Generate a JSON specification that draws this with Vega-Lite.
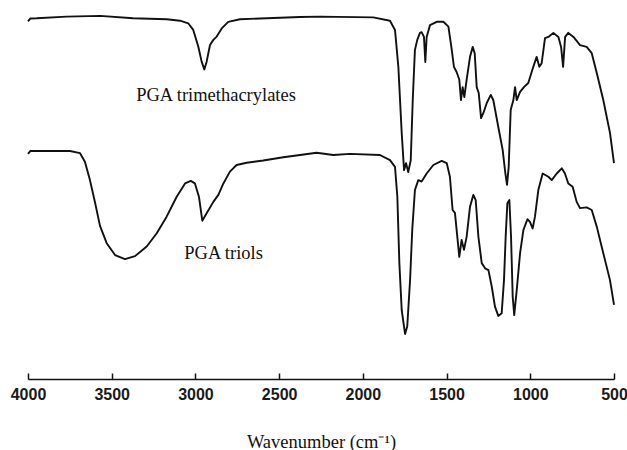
{
  "$schema": "https://vega.github.io/schema/vega-lite/v6.json",
  "width": 586,
  "height": 369,
  "autosize": {"type": "none"},
  "padding": {"left": 28, "top": 10, "right": 13, "bottom": 71},
  "background": "white",
  "config": {"view": {"stroke": null}},
  "datasets": {
    "spectra": [
      {"sample": "trimethacrylates", "wavenumber": 4000, "transmittance": 96.9},
      {"sample": "trimethacrylates", "wavenumber": 3985, "transmittance": 97.7},
      {"sample": "trimethacrylates", "wavenumber": 3948, "transmittance": 97.75},
      {"sample": "trimethacrylates", "wavenumber": 3769, "transmittance": 98.2},
      {"sample": "trimethacrylates", "wavenumber": 3570, "transmittance": 98.4},
      {"sample": "trimethacrylates", "wavenumber": 3372, "transmittance": 97.75},
      {"sample": "trimethacrylates", "wavenumber": 3172, "transmittance": 97.5},
      {"sample": "trimethacrylates", "wavenumber": 3092, "transmittance": 97.1},
      {"sample": "trimethacrylates", "wavenumber": 3043, "transmittance": 96.4},
      {"sample": "trimethacrylates", "wavenumber": 3013, "transmittance": 94.6},
      {"sample": "trimethacrylates", "wavenumber": 2983, "transmittance": 90.1},
      {"sample": "trimethacrylates", "wavenumber": 2963, "transmittance": 86.0},
      {"sample": "trimethacrylates", "wavenumber": 2947, "transmittance": 83.9},
      {"sample": "trimethacrylates", "wavenumber": 2933, "transmittance": 86.0},
      {"sample": "trimethacrylates", "wavenumber": 2913, "transmittance": 90.5},
      {"sample": "trimethacrylates", "wavenumber": 2893, "transmittance": 91.9},
      {"sample": "trimethacrylates", "wavenumber": 2873, "transmittance": 92.8},
      {"sample": "trimethacrylates", "wavenumber": 2843, "transmittance": 95.0},
      {"sample": "trimethacrylates", "wavenumber": 2804, "transmittance": 96.8},
      {"sample": "trimethacrylates", "wavenumber": 2734, "transmittance": 97.5},
      {"sample": "trimethacrylates", "wavenumber": 2574, "transmittance": 97.75},
      {"sample": "trimethacrylates", "wavenumber": 2375, "transmittance": 98.1},
      {"sample": "trimethacrylates", "wavenumber": 2256, "transmittance": 98.2},
      {"sample": "trimethacrylates", "wavenumber": 1938, "transmittance": 98.0},
      {"sample": "trimethacrylates", "wavenumber": 1838, "transmittance": 97.1},
      {"sample": "trimethacrylates", "wavenumber": 1808, "transmittance": 94.6},
      {"sample": "trimethacrylates", "wavenumber": 1788, "transmittance": 84.6},
      {"sample": "trimethacrylates", "wavenumber": 1768, "transmittance": 66.7},
      {"sample": "trimethacrylates", "wavenumber": 1754, "transmittance": 56.6},
      {"sample": "trimethacrylates", "wavenumber": 1742, "transmittance": 58.5},
      {"sample": "trimethacrylates", "wavenumber": 1729, "transmittance": 56.1},
      {"sample": "trimethacrylates", "wavenumber": 1714, "transmittance": 59.3},
      {"sample": "trimethacrylates", "wavenumber": 1702, "transmittance": 75.6},
      {"sample": "trimethacrylates", "wavenumber": 1689, "transmittance": 89.2},
      {"sample": "trimethacrylates", "wavenumber": 1675, "transmittance": 91.9},
      {"sample": "trimethacrylates", "wavenumber": 1659, "transmittance": 93.8},
      {"sample": "trimethacrylates", "wavenumber": 1649, "transmittance": 94.0},
      {"sample": "trimethacrylates", "wavenumber": 1635, "transmittance": 92.7},
      {"sample": "trimethacrylates", "wavenumber": 1627, "transmittance": 85.9},
      {"sample": "trimethacrylates", "wavenumber": 1619, "transmittance": 92.7},
      {"sample": "trimethacrylates", "wavenumber": 1599, "transmittance": 95.9},
      {"sample": "trimethacrylates", "wavenumber": 1559, "transmittance": 96.8},
      {"sample": "trimethacrylates", "wavenumber": 1519, "transmittance": 96.8},
      {"sample": "trimethacrylates", "wavenumber": 1489, "transmittance": 95.5},
      {"sample": "trimethacrylates", "wavenumber": 1469, "transmittance": 89.2},
      {"sample": "trimethacrylates", "wavenumber": 1456, "transmittance": 84.6},
      {"sample": "trimethacrylates", "wavenumber": 1440, "transmittance": 83.2},
      {"sample": "trimethacrylates", "wavenumber": 1424, "transmittance": 81.1},
      {"sample": "trimethacrylates", "wavenumber": 1414, "transmittance": 75.6},
      {"sample": "trimethacrylates", "wavenumber": 1404, "transmittance": 79.1},
      {"sample": "trimethacrylates", "wavenumber": 1394, "transmittance": 76.4},
      {"sample": "trimethacrylates", "wavenumber": 1380, "transmittance": 81.1},
      {"sample": "trimethacrylates", "wavenumber": 1360, "transmittance": 87.3},
      {"sample": "trimethacrylates", "wavenumber": 1344, "transmittance": 90.0},
      {"sample": "trimethacrylates", "wavenumber": 1332, "transmittance": 88.3},
      {"sample": "trimethacrylates", "wavenumber": 1320, "transmittance": 79.1},
      {"sample": "trimethacrylates", "wavenumber": 1308, "transmittance": 77.5},
      {"sample": "trimethacrylates", "wavenumber": 1294, "transmittance": 70.7},
      {"sample": "trimethacrylates", "wavenumber": 1280, "transmittance": 72.1},
      {"sample": "trimethacrylates", "wavenumber": 1260, "transmittance": 74.8},
      {"sample": "trimethacrylates", "wavenumber": 1236, "transmittance": 77.0},
      {"sample": "trimethacrylates", "wavenumber": 1221, "transmittance": 75.6},
      {"sample": "trimethacrylates", "wavenumber": 1191, "transmittance": 68.3},
      {"sample": "trimethacrylates", "wavenumber": 1165, "transmittance": 62.1},
      {"sample": "trimethacrylates", "wavenumber": 1149, "transmittance": 55.8},
      {"sample": "trimethacrylates", "wavenumber": 1139, "transmittance": 52.6},
      {"sample": "trimethacrylates", "wavenumber": 1129, "transmittance": 57.5},
      {"sample": "trimethacrylates", "wavenumber": 1117, "transmittance": 72.9},
      {"sample": "trimethacrylates", "wavenumber": 1101, "transmittance": 75.6},
      {"sample": "trimethacrylates", "wavenumber": 1091, "transmittance": 79.1},
      {"sample": "trimethacrylates", "wavenumber": 1081, "transmittance": 75.6},
      {"sample": "trimethacrylates", "wavenumber": 1061, "transmittance": 77.8},
      {"sample": "trimethacrylates", "wavenumber": 1038, "transmittance": 79.1},
      {"sample": "trimethacrylates", "wavenumber": 1012, "transmittance": 80.2},
      {"sample": "trimethacrylates", "wavenumber": 982, "transmittance": 84.6},
      {"sample": "trimethacrylates", "wavenumber": 962, "transmittance": 87.3},
      {"sample": "trimethacrylates", "wavenumber": 946, "transmittance": 84.6},
      {"sample": "trimethacrylates", "wavenumber": 932, "transmittance": 85.6},
      {"sample": "trimethacrylates", "wavenumber": 912, "transmittance": 92.4},
      {"sample": "trimethacrylates", "wavenumber": 892, "transmittance": 92.7},
      {"sample": "trimethacrylates", "wavenumber": 862, "transmittance": 93.8},
      {"sample": "trimethacrylates", "wavenumber": 832, "transmittance": 92.7},
      {"sample": "trimethacrylates", "wavenumber": 816, "transmittance": 90.0},
      {"sample": "trimethacrylates", "wavenumber": 804, "transmittance": 84.6},
      {"sample": "trimethacrylates", "wavenumber": 792, "transmittance": 92.7},
      {"sample": "trimethacrylates", "wavenumber": 773, "transmittance": 93.8},
      {"sample": "trimethacrylates", "wavenumber": 742, "transmittance": 92.7},
      {"sample": "trimethacrylates", "wavenumber": 703, "transmittance": 90.5},
      {"sample": "trimethacrylates", "wavenumber": 663, "transmittance": 90.0},
      {"sample": "trimethacrylates", "wavenumber": 633, "transmittance": 88.3},
      {"sample": "trimethacrylates", "wavenumber": 603, "transmittance": 82.9},
      {"sample": "trimethacrylates", "wavenumber": 564, "transmittance": 75.6},
      {"sample": "trimethacrylates", "wavenumber": 524, "transmittance": 66.7},
      {"sample": "trimethacrylates", "wavenumber": 500, "transmittance": 58.5},
      {"sample": "triols", "wavenumber": 4000, "transmittance": 61.0},
      {"sample": "triols", "wavenumber": 3985, "transmittance": 61.8},
      {"sample": "triols", "wavenumber": 3749, "transmittance": 61.8},
      {"sample": "triols", "wavenumber": 3689, "transmittance": 61.2},
      {"sample": "triols", "wavenumber": 3660, "transmittance": 58.9},
      {"sample": "triols", "wavenumber": 3630, "transmittance": 53.9},
      {"sample": "triols", "wavenumber": 3600, "transmittance": 47.9},
      {"sample": "triols", "wavenumber": 3570, "transmittance": 41.5},
      {"sample": "triols", "wavenumber": 3530, "transmittance": 36.8},
      {"sample": "triols", "wavenumber": 3480, "transmittance": 33.6},
      {"sample": "triols", "wavenumber": 3421, "transmittance": 32.5},
      {"sample": "triols", "wavenumber": 3361, "transmittance": 33.3},
      {"sample": "triols", "wavenumber": 3291, "transmittance": 35.9},
      {"sample": "triols", "wavenumber": 3231, "transmittance": 39.5},
      {"sample": "triols", "wavenumber": 3172, "transmittance": 44.0},
      {"sample": "triols", "wavenumber": 3112, "transmittance": 49.4},
      {"sample": "triols", "wavenumber": 3062, "transmittance": 53.0},
      {"sample": "triols", "wavenumber": 3028, "transmittance": 53.7},
      {"sample": "triols", "wavenumber": 3003, "transmittance": 53.0},
      {"sample": "triols", "wavenumber": 2979, "transmittance": 49.4},
      {"sample": "triols", "wavenumber": 2959, "transmittance": 42.9},
      {"sample": "triols", "wavenumber": 2933, "transmittance": 44.9},
      {"sample": "triols", "wavenumber": 2893, "transmittance": 48.0},
      {"sample": "triols", "wavenumber": 2863, "transmittance": 49.9},
      {"sample": "triols", "wavenumber": 2833, "transmittance": 53.0},
      {"sample": "triols", "wavenumber": 2794, "transmittance": 56.2},
      {"sample": "triols", "wavenumber": 2754, "transmittance": 58.0},
      {"sample": "triols", "wavenumber": 2694, "transmittance": 58.6},
      {"sample": "triols", "wavenumber": 2595, "transmittance": 59.2},
      {"sample": "triols", "wavenumber": 2475, "transmittance": 60.1},
      {"sample": "triols", "wavenumber": 2375, "transmittance": 60.7},
      {"sample": "triols", "wavenumber": 2276, "transmittance": 61.3},
      {"sample": "triols", "wavenumber": 2176, "transmittance": 60.7},
      {"sample": "triols", "wavenumber": 2077, "transmittance": 61.0},
      {"sample": "triols", "wavenumber": 1898, "transmittance": 60.7},
      {"sample": "triols", "wavenumber": 1838, "transmittance": 59.3},
      {"sample": "triols", "wavenumber": 1808, "transmittance": 57.5},
      {"sample": "triols", "wavenumber": 1794, "transmittance": 49.4},
      {"sample": "triols", "wavenumber": 1782, "transmittance": 31.4},
      {"sample": "triols", "wavenumber": 1768, "transmittance": 18.7},
      {"sample": "triols", "wavenumber": 1748, "transmittance": 12.2},
      {"sample": "triols", "wavenumber": 1735, "transmittance": 14.2},
      {"sample": "triols", "wavenumber": 1718, "transmittance": 26.8},
      {"sample": "triols", "wavenumber": 1705, "transmittance": 40.4},
      {"sample": "triols", "wavenumber": 1689, "transmittance": 51.2},
      {"sample": "triols", "wavenumber": 1669, "transmittance": 53.9},
      {"sample": "triols", "wavenumber": 1649, "transmittance": 53.5},
      {"sample": "triols", "wavenumber": 1619, "transmittance": 55.7},
      {"sample": "triols", "wavenumber": 1579, "transmittance": 58.0},
      {"sample": "triols", "wavenumber": 1529, "transmittance": 59.1},
      {"sample": "triols", "wavenumber": 1499, "transmittance": 58.5},
      {"sample": "triols", "wavenumber": 1480, "transmittance": 54.8},
      {"sample": "triols", "wavenumber": 1464, "transmittance": 45.8},
      {"sample": "triols", "wavenumber": 1450, "transmittance": 45.0},
      {"sample": "triols", "wavenumber": 1436, "transmittance": 38.6},
      {"sample": "triols", "wavenumber": 1424, "transmittance": 33.1},
      {"sample": "triols", "wavenumber": 1410, "transmittance": 37.7},
      {"sample": "triols", "wavenumber": 1396, "transmittance": 35.0},
      {"sample": "triols", "wavenumber": 1380, "transmittance": 38.6},
      {"sample": "triols", "wavenumber": 1360, "transmittance": 46.7},
      {"sample": "triols", "wavenumber": 1340, "transmittance": 49.9},
      {"sample": "triols", "wavenumber": 1326, "transmittance": 48.5},
      {"sample": "triols", "wavenumber": 1310, "transmittance": 38.6},
      {"sample": "triols", "wavenumber": 1290, "transmittance": 31.4},
      {"sample": "triols", "wavenumber": 1270, "transmittance": 30.0},
      {"sample": "triols", "wavenumber": 1250, "transmittance": 29.5},
      {"sample": "triols", "wavenumber": 1230, "transmittance": 25.0},
      {"sample": "triols", "wavenumber": 1211, "transmittance": 19.6},
      {"sample": "triols", "wavenumber": 1191, "transmittance": 17.1},
      {"sample": "triols", "wavenumber": 1171, "transmittance": 17.8},
      {"sample": "triols", "wavenumber": 1157, "transmittance": 26.8},
      {"sample": "triols", "wavenumber": 1147, "transmittance": 38.6},
      {"sample": "triols", "wavenumber": 1137, "transmittance": 47.6},
      {"sample": "triols", "wavenumber": 1125, "transmittance": 48.5},
      {"sample": "triols", "wavenumber": 1115, "transmittance": 38.6},
      {"sample": "triols", "wavenumber": 1105, "transmittance": 22.3},
      {"sample": "triols", "wavenumber": 1096, "transmittance": 17.3},
      {"sample": "triols", "wavenumber": 1081, "transmittance": 24.1},
      {"sample": "triols", "wavenumber": 1061, "transmittance": 34.1},
      {"sample": "triols", "wavenumber": 1041, "transmittance": 40.4},
      {"sample": "triols", "wavenumber": 1017, "transmittance": 43.3},
      {"sample": "triols", "wavenumber": 1002, "transmittance": 42.6},
      {"sample": "triols", "wavenumber": 986, "transmittance": 40.8},
      {"sample": "triols", "wavenumber": 972, "transmittance": 44.0},
      {"sample": "triols", "wavenumber": 952, "transmittance": 51.2},
      {"sample": "triols", "wavenumber": 926, "transmittance": 55.7},
      {"sample": "triols", "wavenumber": 892, "transmittance": 54.8},
      {"sample": "triols", "wavenumber": 872, "transmittance": 53.9},
      {"sample": "triols", "wavenumber": 842, "transmittance": 55.7},
      {"sample": "triols", "wavenumber": 812, "transmittance": 57.1},
      {"sample": "triols", "wavenumber": 793, "transmittance": 55.7},
      {"sample": "triols", "wavenumber": 773, "transmittance": 53.0},
      {"sample": "triols", "wavenumber": 747, "transmittance": 52.1},
      {"sample": "triols", "wavenumber": 723, "transmittance": 48.0},
      {"sample": "triols", "wavenumber": 703, "transmittance": 46.3},
      {"sample": "triols", "wavenumber": 663, "transmittance": 46.5},
      {"sample": "triols", "wavenumber": 633, "transmittance": 45.8},
      {"sample": "triols", "wavenumber": 603, "transmittance": 41.3},
      {"sample": "triols", "wavenumber": 564, "transmittance": 34.1},
      {"sample": "triols", "wavenumber": 524, "transmittance": 26.8},
      {"sample": "triols", "wavenumber": 500, "transmittance": 20.1}
    ],
    "labels": [
      {"wavenumber": 2877, "transmittance": 77.0, "label": "PGA trimethacrylates"},
      {"wavenumber": 2832, "transmittance": 34.1, "label": "PGA triols"}
    ]
  },
  "layer": [
    {
      "data": {"name": "spectra"},
      "mark": {"type": "line", "stroke": "#111111", "strokeWidth": 1.9, "strokeJoin": "round"},
      "encoding": {
        "x": {
          "field": "wavenumber",
          "type": "quantitative",
          "scale": {"domain": [4000, 500], "nice": false, "zero": false},
          "axis": {
            "values": [4000, 3500, 3000, 2500, 2000, 1500, 1000, 500],
            "format": "d",
            "title": "Wavenumber (cm⁻¹)",
            "titleFont": "Liberation Serif",
            "titleFontSize": 18.5,
            "titleFontWeight": "normal",
            "titleColor": "#111111",
            "titlePadding": 30,
            "labelFont": "Liberation Sans",
            "labelFontSize": 16,
            "labelFontWeight": "bold",
            "labelColor": "#1a1a1a",
            "labelPadding": 13,
            "labelFlush": false,
            "labelOverlap": false,
            "tickSize": -6,
            "tickColor": "#111111",
            "tickWidth": 1.5,
            "domainColor": "#111111",
            "domainWidth": 1.5,
            "grid": false
          }
        },
        "y": {
          "field": "transmittance",
          "type": "quantitative",
          "scale": {"domain": [0, 100], "nice": false, "zero": false},
          "axis": null
        },
        "detail": {"field": "sample"}
      }
    },
    {
      "data": {"name": "labels"},
      "mark": {"type": "text", "font": "Liberation Serif", "fontSize": 18.5, "color": "#111111"},
      "encoding": {
        "x": {"field": "wavenumber", "type": "quantitative"},
        "y": {"field": "transmittance", "type": "quantitative"},
        "text": {"field": "label"}
      }
    }
  ]
}
